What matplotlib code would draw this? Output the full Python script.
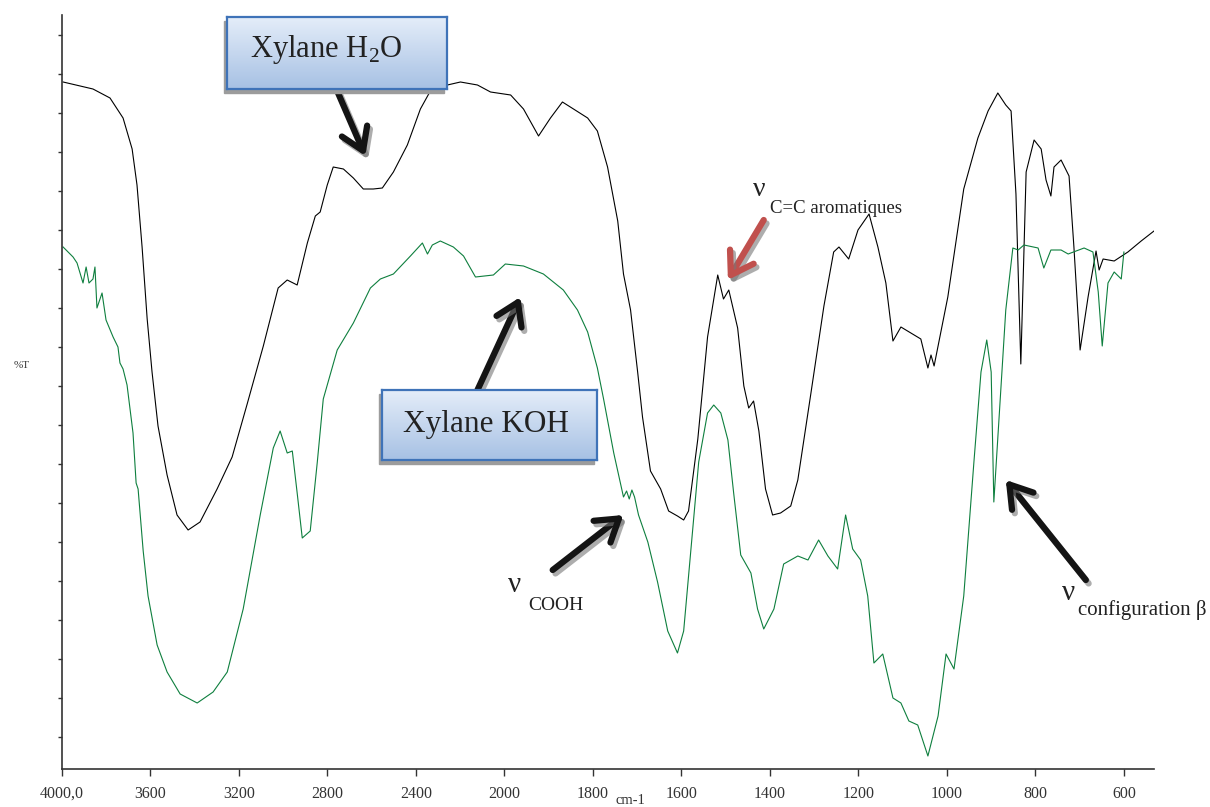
import numpy as np
import matplotlib
matplotlib.use("Agg")
import matplotlib.pyplot as plt
import matplotlib.patheffects as pe
from matplotlib.patches import Rectangle
from matplotlib.colors import LinearSegmentedColormap

plt.rcParams['font.family'] = ['Liberation Serif', 'DejaVu Serif']
plt.rcParams['mathtext.fontset'] = 'custom'
plt.rcParams['mathtext.rm'] = 'Liberation Serif'

# Xylane H2O spectrum (black) : wavenumber, transmittance (arbitrary units)
wn_h2o = [3995, 3860, 3783, 3724, 3683, 3661, 3638, 3615, 3593, 3566, 3525, 3480,
          3430, 3376, 3299, 3231, 3163, 3090, 3023, 2982, 2937, 2891, 2855, 2833,
          2801, 2774, 2728, 2683, 2638, 2593, 2552, 2502, 2439, 2380, 2335, 2258,
          2199, 2122, 2063, 1986, 1957, 1923, 1896, 1869, 1844, 1812, 1790, 1767,
          1744, 1731, 1715, 1699, 1688, 1670, 1647, 1629, 1609, 1595, 1584, 1563,
          1541, 1518, 1505, 1493, 1473, 1459, 1448, 1437, 1425, 1410, 1394, 1376,
          1353, 1337, 1308, 1278, 1256, 1244, 1222, 1201, 1176, 1156, 1138, 1122,
          1104, 1059, 1043, 1036, 1029, 998, 962, 930, 907, 885, 867, 855, 844,
          833, 821, 803, 787, 776, 765, 758, 742, 724, 713, 699, 681, 663, 656,
          647, 622, 591, 561, 532]
t_h2o = [687, 680, 671, 651, 620, 584, 522, 450, 397, 343, 294, 254,
         239, 247, 280, 312, 365, 423, 481, 489, 484, 526, 553, 557,
         584, 602, 600, 591, 580, 580, 581, 597, 624, 660, 678, 684,
         687, 684, 677, 674, 660, 633, 651, 667, 660, 651, 638, 602,
         548, 495, 459, 397, 352, 298, 280, 258, 253, 249, 258, 330,
         432, 494, 470, 479, 441, 383, 361, 368, 338, 280, 254, 256,
         263, 289, 374, 463, 517, 522, 510, 539, 555, 522, 486, 428,
         442, 430, 401, 414, 403, 472, 580, 631, 658, 676, 664, 658, 575,
         405, 597, 629, 620, 589, 573, 602, 609, 593, 522, 419, 472, 518, 499,
         510, 508, 517, 528, 538]

# Xylane KOH spectrum (green)
wn_koh = [3995, 3950, 3932, 3905, 3891, 3878, 3860, 3851, 3842, 3819, 3801, 3769,
          3747, 3738, 3724, 3715, 3706, 3679, 3665, 3656, 3633, 3611, 3570, 3525,
          3466, 3389, 3317, 3253, 3181, 3104, 3045, 3014, 2982, 2959, 2937, 2914,
          2878, 2846, 2819, 2756, 2683, 2606, 2561, 2502, 2425, 2371, 2348, 2326,
          2290, 2231, 2185, 2131, 2050, 1998, 1957, 1912, 1867, 1835, 1812, 1790,
          1776, 1753, 1731, 1724, 1718, 1712, 1706, 1697, 1676, 1654, 1631, 1609,
          1595, 1579, 1561, 1541, 1527, 1511, 1495, 1482, 1466, 1443, 1428, 1414,
          1391, 1369, 1337, 1314, 1290, 1269, 1247, 1229, 1213, 1195, 1179, 1165,
          1145, 1122, 1104, 1086, 1066, 1043, 1020, 1002, 984, 962, 939, 923, 910,
          900, 894, 882, 867, 851, 839, 826, 794, 781, 765, 742, 726, 690, 670,
          658, 649, 636, 622, 606, 600]
t_koh = [522, 512, 506, 486, 502, 486, 490, 502, 461, 476, 449, 432,
         422, 406, 400, 392, 384, 336, 286, 280, 218, 173, 124, 97,
         75, 66, 77, 97, 160, 254, 321, 338, 316, 318, 276, 231,
         238, 307, 370, 419, 446, 481, 490, 495, 513, 526, 515, 524,
         528, 522, 513, 492, 494, 505, 503, 495, 479, 459, 437, 401,
         370, 316, 272, 278, 270, 279, 272, 254, 227, 187, 138, 116,
         138, 218, 307, 356, 364, 356, 329, 276, 214, 196, 160, 140,
         160, 205, 213, 209, 229, 213, 200, 254, 220, 209, 173, 106,
         115, 71, 66, 48, 44, 13, 53, 115, 100, 173, 307, 397, 429,
         397, 267, 352, 459, 521, 519, 524, 521, 501, 519, 519, 515, 521, 517,
         477, 423, 486, 497, 490, 517]

xticks = [4000, 3600, 3200, 2800, 2400, 2000, 1800, 1600, 1400, 1200, 1000, 800, 600]
xlabels = ['4000,0'] + [str(v) for v in xticks[1:]]

W, H = 1210, 807


def fx(px):
    return px / W


def fy(py):
    return 1 - py / H


# wavenumber axis is compressed x2 above 2000 cm-1
def fwd(w):
    w = np.asarray(w, dtype=float)
    return np.where(w > 2000, w, 2 * w - 2000)


def inv(u):
    u = np.asarray(u, dtype=float)
    return np.where(u > 2000, u, (u + 2000) / 2)


fig = plt.figure(figsize=(W / 100, H / 100), dpi=100)
ax = fig.add_axes([fx(62), fy(769), fx(1154) - fx(62), fy(15) - fy(769)])
ax.patch.set_alpha(0)
ax.set_xscale('function', functions=(fwd, inv))
ax.plot(wn_h2o, t_h2o, color='black', lw=0.8)
ax.plot(wn_koh, t_koh, color='#0e7f3e', lw=0.8)
ax.set_xlim(4000, 532)
ax.set_ylim(0, 754)

ax.set_xticks(xticks)
ax.set_xticklabels(xlabels)
ax.set_yticks(np.arange(32, 735, 39))
ax.set_yticklabels([])
ax.xaxis.set_minor_locator(matplotlib.ticker.NullLocator())
ax.tick_params(axis='x', length=5, width=1, labelsize=11.5, colors='#333', pad=7)
ax.tick_params(axis='y', length=3, width=1, colors='#333')
for s in ['top', 'right']:
    ax.spines[s].set_visible(False)
for s in ['left', 'bottom']:
    ax.spines[s].set_color('#333')
    ax.spines[s].set_linewidth(1.2)

fig.text(fx(22), fy(366), '%T', fontsize=8, ha='center', va='center', color='#333')
fig.text(fx(630), fy(801), 'cm-1', fontsize=10.5, ha='center', va='center', color='#333')

# arrows (tail -> tip in data coords)
shadow = [pe.SimpleLineShadow(offset=(2, -2.5), shadow_color='#777', alpha=0.6), pe.Normal()]


def arrow(tail, tip, color='#141414'):
    a = ax.annotate('', xy=tip, xytext=tail,
                    arrowprops=dict(arrowstyle='->,head_length=0.7,head_width=0.45',
                                    lw=4.5, color=color, shrinkA=0, shrinkB=0,
                                    mutation_scale=22))
    a.arrow_patch.set_path_effects(shadow)


arrow((2756, 678), (2629, 613))
arrow((2122, 379), (1964, 472))
arrow((1891, 199), (1731, 254))
arrow((1414, 549), (1495, 489), color='#c0504d')
arrow((686, 189), (867, 289))

# label boxes with gradient fill
cmap = LinearSegmentedColormap.from_list('box', ['#a7c1e4', '#e4edf9'])
grad = np.linspace(0, 1, 100).reshape(-1, 1)


def label_box(l, t, r, b, text, size, cx, base):
    fig.add_artist(Rectangle((fx(l - 3), fy(b + 4)), fx(r - l), fy(t) - fy(b),
                             transform=fig.transFigure, color='#9c9c9c', zorder=1))
    bx = fig.add_axes([fx(l), fy(b), fx(r - l), fy(t) - fy(b)], zorder=2)
    bx.imshow(grad, aspect='auto', cmap=cmap, origin='lower', extent=(0, 1, 0, 1))
    bx.set_xticks([])
    bx.set_yticks([])
    for s in bx.spines.values():
        s.set_color('#3f73b8')
        s.set_linewidth(1.6)
    fig.text(fx(cx), fy(base), text, fontsize=size, ha='center', va='baseline',
             color='#222', zorder=3)


label_box(227, 17, 447, 89, r'Xylane H$_{2}$O', 22, 326, 57)
label_box(382, 390, 597, 460, 'Xylane KOH', 22.5, 486, 432)

# nu labels
fig.text(fx(508), fy(592), 'ν', fontsize=21, color='#222', va='baseline')
fig.text(fx(528), fy(610), 'COOH', fontsize=14, color='#222', va='baseline')
fig.text(fx(753), fy(196), 'ν', fontsize=20, color='#222', va='baseline')
fig.text(fx(770), fy(213), 'C=C aromatiques', fontsize=13.5, color='#222', va='baseline')
fig.text(fx(1062), fy(600), 'ν', fontsize=21, color='#222', va='baseline')
fig.text(fx(1078), fy(615), 'configuration β', fontsize=15, color='#222', va='baseline')

fig.savefig('out.png', dpi=100)
